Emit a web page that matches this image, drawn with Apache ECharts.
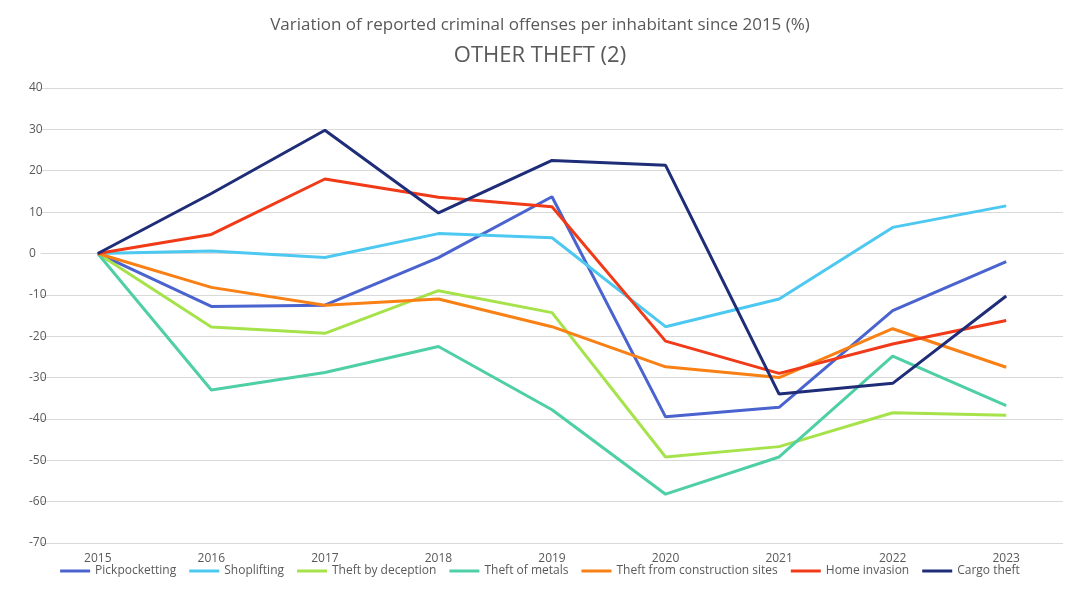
<!DOCTYPE html><html><head><meta charset="utf-8"><script src="https://cdn.jsdelivr.net/npm/echarts@6/dist/echarts.min.js"></script></head><body style="margin:0"><div id="c" style="width:1080px;height:596px"></div><script>
const years=['2015','2016','2017','2018','2019','2020','2021','2022','2023'];
const pickpocketing=[0,-12.8,-12.5,-1,13.7,-39.5,-37.2,-13.8,-2];
const shoplifting=[0,0.6,-1,4.8,3.8,-17.7,-11,6.3,11.5];
const deception=[0,-17.8,-19.3,-9,-14.3,-49.2,-46.7,-38.5,-39.1];
const metals=[0,-33,-28.8,-22.5,-37.8,-58.2,-49.2,-24.8,-36.8];
const construction=[0,-8.2,-12.5,-11,-17.7,-27.4,-30,-18.2,-27.5];
const homeInvasion=[0,4.6,18,13.6,11.3,-21.2,-29,-21.9,-16.2];
const cargo=[0,14.5,29.8,9.8,22.5,21.3,-34,-31.4,-10.3];
const names=['Pickpocketting','Shoplifting','Theft by deception','Theft of metals','Theft from construction sites','Home invasion','Cargo theft'];
const data=[pickpocketing,shoplifting,deception,metals,construction,homeInvasion,cargo];
const colors=['#4A63CF','#4DC8F0','#A6E34B','#4ECFA6','#F98014','#F03A18','#1F2D78'];
const ch=echarts.init(document.getElementById('c'));
ch.setOption({
 color:colors,animation:false,
 title:[{text:'Variation of reported criminal offenses per inhabitant since 2015 (%)',left:'center',top:12,textStyle:{fontFamily:'Open Sans',fontSize:17,fontWeight:'normal',color:'#595959'}},
 {text:'OTHER THEFT (2)',left:'center',top:40,textStyle:{fontFamily:'Open Sans',fontSize:22,fontWeight:'normal',color:'#595959'}}],
 legend:{bottom:14,itemWidth:30,itemHeight:3,icon:'rect',itemGap:13,textStyle:{fontFamily:'Open Sans',fontSize:12,color:'#595959'}},
 grid:{left:41,right:17,top:88,bottom:53},
 xAxis:{type:'category',data:years,boundaryGap:true,axisLine:{show:true,onZero:true,lineStyle:{color:'#d9d9d9'}},axisTick:{show:false},axisLabel:{color:'#595959',fontFamily:'Open Sans',fontSize:12,margin:10}},
 yAxis:{type:'value',min:-70,max:40,interval:10,splitLine:{lineStyle:{color:'#d9d9d9'}},axisLabel:{color:'#595959',fontFamily:'Open Sans',fontSize:12,margin:12,align:'left'},axisLine:{show:true,lineStyle:{opacity:0}}},
 series:names.map((n,i)=>({name:n,type:'line',data:data[i],symbol:'none',lineStyle:{width:3}}))
});
</script></body></html>
